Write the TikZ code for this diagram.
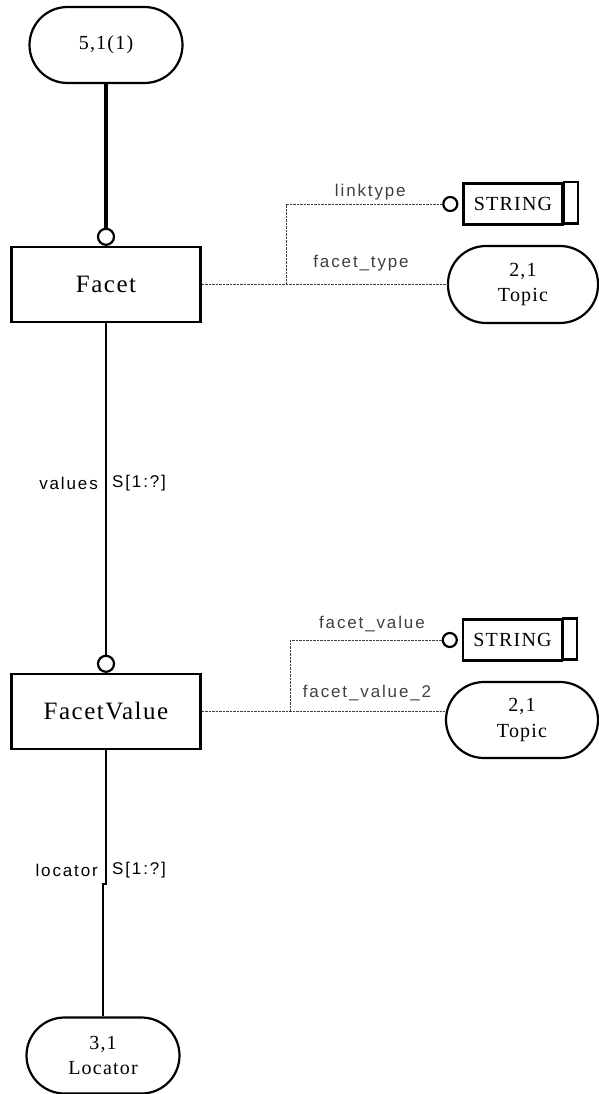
\documentclass[tikz,border=0pt]{standalone}
\usepackage{fontspec}
\setmainfont{Liberation Serif}[LetterSpace=6]
\newfontfamily\lblfont{Liberation Sans}[LetterSpace=11]
\usetikzlibrary{positioning}

\begin{document}
\begin{tikzpicture}[x=1pt,y=-1pt,
  ent/.style={rectangle,draw,line width=2.2pt,minimum width=189pt,minimum height=75pt,font=\fontsize{25}{30}\selectfont},
  pill/.style={rectangle,rounded corners=38pt,draw,line width=2.2pt,minimum width=153pt,minimum height=76pt,align=center,font=\fontsize{20}{25}\selectfont},
  typ/.style={rectangle,draw,line width=2.2pt,minimum width=99pt,minimum height=41pt,font=\fontsize{20}{24}\selectfont},
  ocirc/.style={circle,draw,line width=2.2pt,minimum size=16pt,inner sep=0pt},
  ocircs/.style={circle,draw,line width=2.2pt,minimum size=14pt,inner sep=0pt},
  own/.style={line width=3.4pt},
  rel/.style={line width=2.2pt},
  opt/.style={line width=1pt,dash pattern=on 2.5pt off 1pt,black!75},
  lbl/.style={font=\lblfont\fontsize{17}{20}\selectfont,inner sep=2pt}]
\useasboundingbox (0,0) rectangle (599,1094);
\node at (106,45) [pill] (s) {5,1(1)};
\node at (106,284.5) [ent] (a) {Facet};
\node at (513,204) [typ] (a1) {STRING};
\node at (523,284.5) [pill,minimum width=150pt,minimum height=77pt] (a2) {2,1\\Topic};
\node at (106,711.5) [ent] (b) {FacetValue};
\node at (512.5,640) [typ] (b1) {STRING};
\node at (522,720) [pill,minimum width=152pt] (b2) {2,1\\Topic};
\node at (103,1055.5) [pill] (c) {3,1\\Locator};
\draw[line width=2.2pt] (a1.north east) rectangle ++(14,41);
\draw[line width=2.2pt] (b1.north east) rectangle ++(14,41);
\node[ocirc,above=0pt of a] (ca) {};
\node[ocirc,above=0pt of b] (cb) {};
\node[ocircs,left=4pt of a1] (ca1) {};
\node[ocircs,left=4pt of b1] (cb1) {};
\coordinate (p1) at (286,284.5);
\coordinate (p2) at (290,711.5);
\coordinate (j) at (106,884);
\draw[own] (s) -- (ca);
\draw[rel] (a) -- (cb);
\draw[rel] (b) -- (j) -| (c);
\node at (100,483) [lbl,anchor=east] (v1) {values};
\node at (110,483) [lbl,anchor=west] (v2) {S[1:?]};
\node at (100,870) [lbl,anchor=east] (w1) {locator};
\node at (110,870) [lbl,anchor=west] (w2) {S[1:?]};
\draw[opt] (a) -- (a2) node[lbl,above=11pt,pos=0.65] {facet\_type};
\draw[opt] (p1) |- (ca1) node[lbl,above=1pt,pos=0.77] {linktype};
\draw[opt] (b) -- (b -| b2.west) node[lbl,above=8pt,pos=0.68] {facet\_value\_2};
\draw[opt] (p2) |- (cb1) node[lbl,above=6pt,pos=0.77] {facet\_value};
\end{tikzpicture}
\end{document}
